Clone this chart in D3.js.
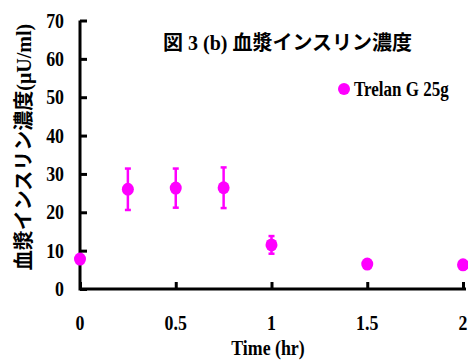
<!DOCTYPE html>
<html>
<head>
<meta charset="utf-8">
<script src="https://cdn.jsdelivr.net/npm/d3@7"></script>
<style>
  body { margin: 0; background: #fff; }
  text { font-family: "Liberation Serif", "Noto Sans CJK JP", serif; font-weight: bold; }
</style>
</head>
<body>
<script>
// data
var times = [0, 0.25, 0.5, 0.75, 1, 1.5, 2];
var insulin = [7.8, 26.0, 26.3, 26.4, 11.5, 6.5, 6.3];
var errors = [0, 5.4, 5.1, 5.3, 2.3, 0, 0];
var xTicks = [0, 0.5, 1, 1.5, 2];
var yTicks = [0, 10, 20, 30, 40, 50, 60, 70];
var seriesName = "Trelan G 25g";
var title = "図 3 (b) 血漿インスリン濃度";
var yLabel = "血漿インスリン濃度(μU/ml)";
var xLabel = "Time (hr)";

var width = 468, height = 360;
var pink = "#ff00ff";
var squeeze = 0.85; // the latin text in the picture is narrow and tall

var svg = d3.select("body").append("svg")
    .attr("width", width)
    .attr("height", height);

var x = d3.scaleLinear().domain([0, 2]).range([80, 463]);
var y = d3.scaleLinear().domain([0, 70]).range([289, 20.5]);

// x axis, ticks pointing inward
var xAxis = svg.append("g")
    .attr("transform", "translate(0," + y(0) + ")")
    .call(d3.axisTop(x).tickValues(xTicks).tickSize(7).tickFormat(""));
xAxis.select(".domain").attr("d", "M" + x(0) + ",0H" + (x(2) + 3)).attr("stroke-width", 3);
xAxis.selectAll(".tick line").attr("stroke-width", 3);

// y axis, ticks pointing inward
var yAxis = svg.append("g")
    .attr("transform", "translate(" + x(0) + ",0)")
    .call(d3.axisRight(y).tickValues(yTicks).tickSize(7).tickFormat(""));
yAxis.select(".domain").attr("d", "M0," + y(70) + "V" + (y(0) + 1.5)).attr("stroke-width", 3);
yAxis.selectAll(".tick line").attr("stroke-width", 3);

// tick labels
svg.append("g").selectAll("text")
    .data(yTicks)
    .enter().append("text")
    .attr("transform", function (d) { return "translate(64," + (y(d) + 7) + ") scale(" + squeeze + ",1)"; })
    .attr("text-anchor", "end")
    .style("font-size", "21px")
    .text(function (d) { return d; });

svg.append("g").selectAll("text")
    .data(xTicks)
    .enter().append("text")
    .attr("transform", function (d) { return "translate(" + x(d) + ",330) scale(" + squeeze + ",1)"; })
    .attr("text-anchor", "middle")
    .style("font-size", "21px")
    .text(function (d) { return d; });

// axis titles
svg.append("text")
    .attr("transform", "translate(268,355) scale(" + squeeze + ",1)")
    .attr("text-anchor", "middle")
    .style("font-size", "21px")
    .text(xLabel);

svg.append("text")
    .attr("transform", "translate(31,147) rotate(-90)")
    .attr("text-anchor", "middle")
    .style("font-size", "20px")
    .text(yLabel);

// title
svg.append("text")
    .attr("x", 163)
    .attr("y", 50)
    .style("font-size", "20px")
    .text(title);

// legend
svg.append("circle")
    .attr("cx", 344)
    .attr("cy", 89)
    .attr("r", 6)
    .style("fill", pink);
svg.append("text")
    .attr("transform", "translate(354,96) scale(" + squeeze + ",1)")
    .style("font-size", "20px")
    .text(seriesName);

var data = times.map(function (t, i) { return {t: t, v: insulin[i], e: errors[i]}; });

// error bars
var eb = svg.append("g").selectAll("g")
    .data(data.filter(function (d) { return d.e > 0; }))
    .enter().append("g")
    .style("stroke", pink)
    .style("stroke-width", 2.5);
eb.append("line")
    .attr("x1", function (d) { return x(d.t); })
    .attr("x2", function (d) { return x(d.t); })
    .attr("y1", function (d) { return y(d.v + d.e); })
    .attr("y2", function (d) { return y(d.v - d.e); });
eb.append("line")
    .attr("x1", function (d) { return x(d.t) - 3; })
    .attr("x2", function (d) { return x(d.t) + 3; })
    .attr("y1", function (d) { return y(d.v + d.e); })
    .attr("y2", function (d) { return y(d.v + d.e); });
eb.append("line")
    .attr("x1", function (d) { return x(d.t) - 3; })
    .attr("x2", function (d) { return x(d.t) + 3; })
    .attr("y1", function (d) { return y(d.v - d.e); })
    .attr("y2", function (d) { return y(d.v - d.e); });

// points
svg.append("g").selectAll("ellipse")
    .data(data)
    .enter().append("ellipse")
    .attr("cx", function (d) { return x(d.t); })
    .attr("cy", function (d) { return y(d.v); })
    .attr("rx", 6)
    .attr("ry", 6.5)
    .style("fill", pink);
</script>
</body>
</html>
